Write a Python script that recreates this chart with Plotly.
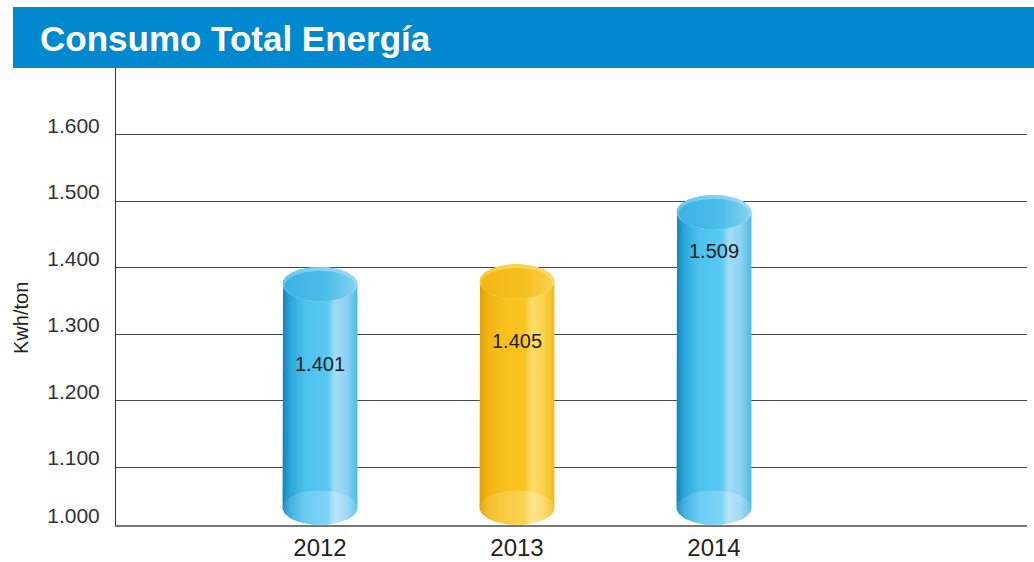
import numpy as np
import plotly.graph_objects as go

# ---- data ----
years = [2012, 2013, 2014]
values = [1401, 1405, 1509]
value_labels = ["1.401", "1.405", "1.509"]
tick_vals = [1013, 1100, 1200, 1300, 1400, 1500, 1600]
tick_text = ["1.000", "1.100", "1.200", "1.300", "1.400", "1.500", "1.600"]
y_base = 1013
y_top = 1700
title_text = "Consumo Total Energía"
y_title = "Kwh/ton"

# ---- styles ----
FONT = "Liberation Sans, Arial, sans-serif"
BLUE_BODY = [[0.0, "#1283B6"], [0.1, "#2BA6DA"], [0.3, "#4DC2EE"], [0.6, "#58C8F2"],
             [0.7, "#A2DCF6"], [0.86, "#8CD2F2"], [1.0, "#4CBBE8"]]
BLUE_CAP = [[0.0, "#66C9EE"], [0.5, "#7ED3F3"], [1.0, "#9ADCF5"]]
BLUE_INNER = [[0.0, "#3DB2E2"], [0.6, "#4DBDEA"], [1.0, "#86D0F1"]]
YEL_BODY = [[0.0, "#E09E05"], [0.1, "#F1B312"], [0.3, "#F8C01C"], [0.6, "#F9C420"],
            [0.7, "#FFDD6A"], [0.86, "#FCD24A"], [1.0, "#F2BB1A"]]
YEL_CAP = [[0.0, "#F9C93A"], [0.5, "#FBD251"], [1.0, "#FDDC70"]]
YEL_INNER = [[0.0, "#F2B615"], [0.6, "#F6BF1E"], [1.0, "#FAD14F"]]
styles = [(BLUE_BODY, BLUE_CAP, BLUE_INNER), (YEL_BODY, YEL_CAP, YEL_INNER),
          (BLUE_BODY, BLUE_CAP, BLUE_INNER)]
label_shift = [-97, -77, -56]

rx = 0.19      # half width of cylinder (x units)
ry = 26.0      # half height of ellipse caps (y units)

fig = go.Figure()


def add_poly(xs, ys, scale, opacity=1.0):
    fig.add_trace(go.Scatter(
        x=xs, y=ys, mode="lines", fill="toself", line=dict(width=0),
        fillgradient=dict(type="horizontal", colorscale=scale),
        opacity=opacity, hoverinfo="skip", showlegend=False))


for yr, val, (body, cap, inner) in zip(years, values, styles):
    yt = val - ry
    yb = y_base + ry
    t_top = np.linspace(np.pi, 0, 60)
    t_bot = np.linspace(0, -np.pi, 60)
    xs = np.concatenate([[yr - rx], yr + rx * np.cos(t_top), [yr + rx],
                         yr + rx * np.cos(t_bot), [yr - rx]])
    ys = np.concatenate([[yb], yt + ry * np.sin(t_top), [yb],
                         yb + ry * np.sin(t_bot), [yb]])
    add_poly(xs, ys, body)
    # bottom face (seen through)
    t = np.linspace(0, 2 * np.pi, 90)
    add_poly(yr + rx * 0.99 * np.cos(t), yb + ry * np.sin(t),
             [[0, "rgba(255,255,255,0.10)"], [0.7, "rgba(255,255,255,0.25)"],
              [1, "rgba(255,255,255,0.12)"]])
    # top cap
    add_poly(yr + rx * np.cos(t), yt + ry * np.sin(t), cap)
    add_poly(yr + rx * 0.95 * np.cos(t), yt - ry * 0.1 + ry * 0.88 * np.sin(t), inner)

for yr, val, lab, sh in zip(years, values, value_labels, label_shift):
    fig.add_annotation(x=yr, y=val, text=lab, showarrow=False, yshift=sh,
                       font=dict(family=FONT, size=20, color="#231F20"))

# banner + title
fig.add_shape(type="rect", xref="paper", yref="paper",
              x0=(13 - 116) / 911, x1=(1040 - 116) / 911,
              y0=1.0, y1=(525 - 7) / 457, fillcolor="#0089CF", line=dict(width=0),
              layer="below")
fig.add_annotation(xref="paper", yref="paper", x=(38 - 116) / 911, y=(525 - 38) / 457,
                   xanchor="left", yanchor="middle", showarrow=False, text=f"<b>{title_text}</b>",
                   font=dict(family=FONT, size=35, color="white"))
fig.add_annotation(xref="paper", yref="paper", x=(21 - 116) / 911, y=(525 - 318) / 457,
                   xanchor="center", yanchor="middle", showarrow=False, text=y_title,
                   textangle=-90, font=dict(family=FONT, size=20, color="#231F20"))

fig.update_layout(
    width=1034, height=562,
    margin=dict(l=116, r=7, t=68, b=37, autoexpand=False),
    paper_bgcolor="white", plot_bgcolor="white",
    xaxis=dict(range=[2010.9645, 2015.589], tickvals=years, ticktext=[str(y) for y in years],
               showgrid=False, zeroline=False, showline=True, linecolor="#777777", linewidth=1.5,
               ticks="", tickfont=dict(family=FONT, size=24, color="#231F20"),
               ticklabelstandoff=0, fixedrange=True, automargin=False),
    yaxis=dict(range=[y_base, y_top], tickvals=tick_vals, ticktext=tick_text,
               showgrid=True, gridcolor="#4A4A4A", gridwidth=1, zeroline=False,
               showline=True, linecolor="#333333", linewidth=1, ticks="",
               tickfont=dict(family=FONT, size=21, color="#333333"),
               ticklabelshift=-9, ticklabelstandoff=11, fixedrange=True, automargin=False),
)

fig.write_html("out.html", config={"displayModeBar": False},
               post_script="document.body.style.margin='0';document.body.style.overflow='hidden';")
